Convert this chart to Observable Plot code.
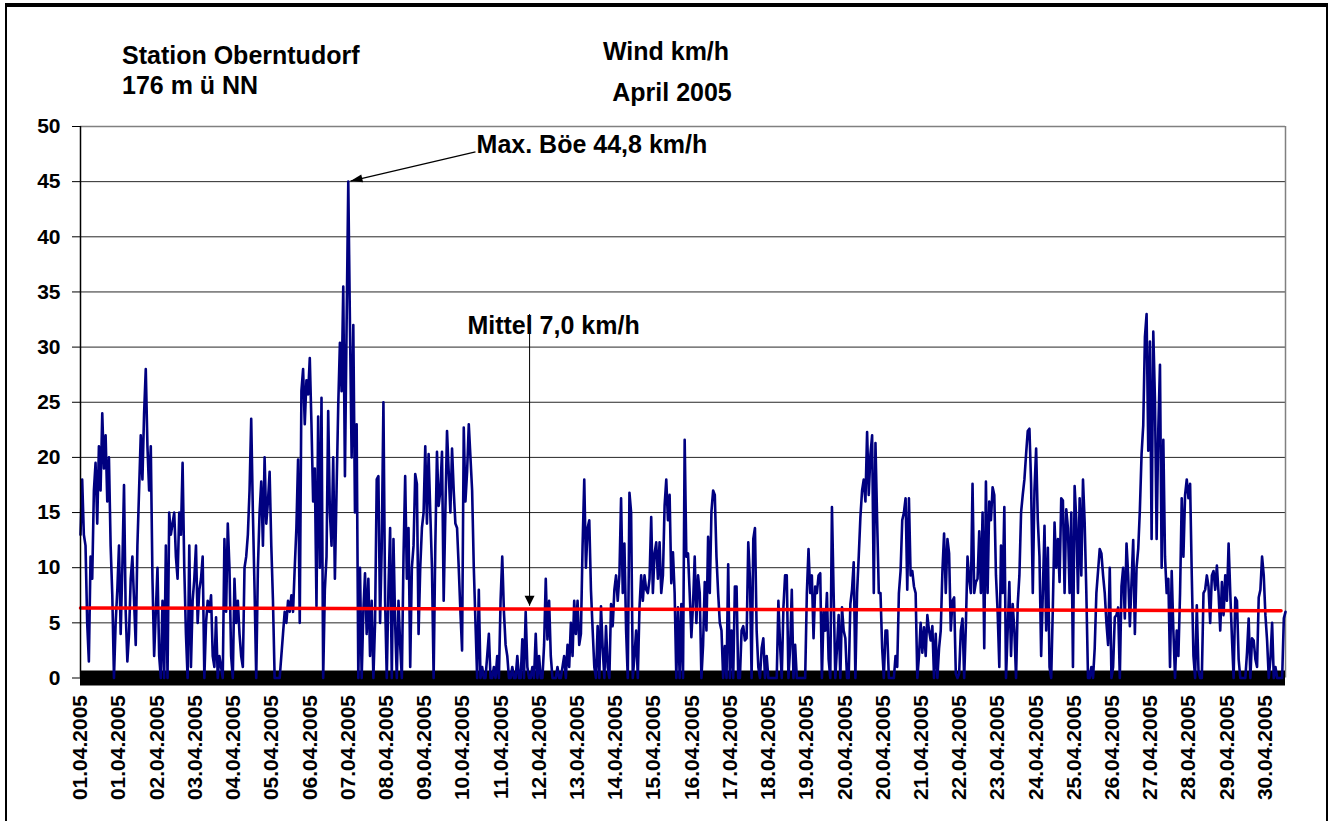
<!DOCTYPE html>
<html>
<head>
<meta charset="utf-8">
<script src="https://cdn.jsdelivr.net/npm/d3@7"></script>
<script src="https://cdn.jsdelivr.net/npm/@observablehq/plot@0.6"></script>
<style>
  body { margin: 0; background: #fff; }
  #wrap { position: relative; width: 1334px; height: 821px; overflow: hidden;
          font-family: "Liberation Sans", Arial, sans-serif; font-weight: bold; color: #000; }
  #frame { position: absolute; left: 5px; top: 3px; width: 1319px; height: 900px;
           border-top: 4px solid #000; border-left: 2px solid #000; border-right: 2px solid #000; }
  #chart { position: absolute; left: 0; top: 0; }
  .t { position: absolute; font-size: 25px; line-height: 25px; white-space: nowrap; }
  #chart svg [aria-label*="axis"] text { font-size: 21px; font-weight: bold; }
</style>
</head>
<body>
<div id="wrap">
  <div id="frame"></div>
  <div id="chart"></div>
  <div class="t" style="left:122px; top:43px;">Station Oberntudorf</div>
  <div class="t" style="left:122px; top:73px;">176 m ü NN</div>
  <div class="t" style="left:666px; top:39px; transform:translateX(-50%);">Wind km/h</div>
  <div class="t" style="left:672px; top:80px; transform:translateX(-50%);">April 2005</div>
</div>
<script>
// Hourly wind speed (km/h), April 2005
const wind01to05 = [
  13,18,13,12,5,1.5,11,9,17,19.5,14,21,17,24,19,22,16,20,12,7.5,0,5,8,12,
  4,10,17.5,6,1.5,4,9,11,7,3,12,17,22,18,24,28,21,17,21,9,2,6,10,2,
  0,7,0,12,0,15,13,14,15,11,9,15,13,19.5,10,4,0,12,1,7,9,12,5,8,
  9,11,0,5,7,6,7.5,2,1,5.5,0,2,1,0,12.6,6,14,10,2,0,9,5,7,4,
  2,1,10,11,13,17,23.5,15,8,0,10,15,17.8,12,20,14,16,18.7,12,7,0,0,0,0
];
const wind06to10 = [
  2,4,6,5,7,6,7.5,6,10,13.6,19.8,5,26,28,23,27,25.7,29,23,16,19,6.5,23.7,10,
  25.4,0,8,11,24.2,15,12,20,9,17,24.7,30.4,26,35.5,18.3,32,45,32,20,32,15,23,0,10,
  0,6,9.5,4,9,2,7,0,5,18,18.3,5,12,25,7,0,8,13.6,0,12.6,5,0,7,3,
  0,11,18.3,9,13.6,1,10,12,18.5,17.6,4,10,13.6,15,21,14,20.3,15,10,0,12,20.5,15.6,17,
  20.5,7,15,22.4,18.7,15,20.8,17,14,13.6,10,6,2.5,22.7,16,18.7,23,20,17,10,5,0,8,0
];
const wind11to15 = [
  1,0,0,2,4,0,0,1,0,2,0,7,11,6,3,2,0,0,1,0,0,2,0,0,
  3.5,0,6,1,0,0,1,0,4,0,2,0,0,3,9,3.5,7,2,0,0,0,1,0,0,
  1,2,0,3,1,5,2,7,4,7,3,4,12,18,10,13.6,14.3,8,4.4,1,0,4.7,0,6.5,
  2.7,0,4.7,1,0,6.7,4.7,8,9.3,7,9.3,16.3,7.7,12.2,4.3,0,16.8,15,0,2,4.3,0,6.4,9.3,
  7,9.3,8,7.7,9,14.6,7.7,11.3,12.3,9,12.3,7.7,9.3,15.6,18,14.3,16.6,8.6,11.4,7.7,0,6.4,0,6.7
];
const wind16to20 = [
  0,21.6,11,11.3,7.7,3.7,6.7,11,5,9.3,7.7,0,3,8.7,4.3,12.8,7.7,15.1,17,16.6,11,7.7,5,4.3,
  0,2.9,0,10.3,0,4.3,0,8.3,8.3,0,0,4.3,4.7,3.4,3.6,12.3,9,0,12.6,13.6,4.3,1,0,2.7,
  3.6,0,2,0,0,0,0,0,0,7,3,0,6.4,9.3,9.3,0,2.7,8,0,3,0,0,0,0,
  0,0,7.7,11.7,7.7,9.3,3.6,8.3,7.7,9.3,9.5,0,6,4.3,7.7,1.7,0,15.5,7.7,0,2.7,5.7,0,6.4,
  4.3,3.6,0,0,6.7,8,10.5,0,7.7,11,14.6,17,18,16,22.3,16.6,20.3,22,7.7,21.3,14.3,7.7,7.7,2.7
];
const wind21to25 = [
  0,4.3,4.3,0,0,0,0,2,1,7.7,9.7,14.3,15,16.3,8,16.3,9.3,9.7,8.3,7.7,0,2,5,2.3,
  4.6,2,5.7,4.3,3.4,4.7,0,4,0,2.7,4.3,9.7,13.1,7.7,12.6,11.3,4.3,7,7.3,0.4,0,0.4,4.3,5.4,
  0,4.7,11,9,7.7,17.6,7.7,8.7,9,13.3,7.7,15,2.7,17.8,7.7,16,14.3,17.3,16.6,9.3,6,1,12,7.7,
  15.5,0,4.3,8.7,2,6.7,4.3,0,6.7,9.3,15,16.6,18,20.3,22.4,22.6,17.6,7.7,17,20.8,14.3,11,2,7.7,
  13.8,4.3,11.8,1,0,6.5,14.1,10,12.6,8.7,16.3,16.1,7.7,15.3,13.6,7.7,15,1,17.4,14.3,7.7,16.3,9.3,18
];
const wind26to30 = [
  14.1,7.7,0,0,1,0,2.7,7.7,9.7,11.7,11.3,9.3,7.7,5,3,10,0,1,5.5,5.7,6.4,0,8.3,10,
  5.4,12.2,9.3,4.7,8.7,12.5,4,10,11.7,15.3,20.3,22.9,30.9,33,20.6,30.5,12.6,31.4,25.2,12.6,22.6,28.4,10,21.6,
  11,7.7,9,1,9.7,4.3,0,4.3,2,7.7,16.3,11,16.6,18,16.3,17.6,9.3,2,0,6.6,0.7,0,0,7.7,
  8,9.3,8.3,5,9.3,9.7,8,10.2,7.7,4.3,8.7,5.7,9.3,7,12.2,7.7,3.6,0,7.3,7,1.7,0,0,0,
  0,2.3,5.4,0,3.6,3.4,1.7,1,7.3,8,11,9.3,5.7,3.4,0,1.7,5,0,1,0,0,0,0,5.4,6
];

// Red trend line (start / end)
const trendSteps = [0, 4304];
const trendValues = [6.35, 6.1];

// Category axis: one label every 137 ten-minute records
const tickLabels = ["01.04.2005","01.04.2005","02.04.2005","03.04.2005","04.04.2005","05.04.2005",
  "06.04.2005","07.04.2005","08.04.2005","09.04.2005","10.04.2005","11.04.2005","12.04.2005",
  "13.04.2005","14.04.2005","15.04.2005","16.04.2005","17.04.2005","18.04.2005","19.04.2005",
  "20.04.2005","20.04.2005","21.04.2005","22.04.2005","23.04.2005","24.04.2005","25.04.2005",
  "26.04.2005","27.04.2005","28.04.2005","29.04.2005","30.04.2005"];
const labelEvery = 137;
const yTicks = [0,5,10,15,20,25,30,35,40,45,50];
const gridValues = [5,10,15,20,25,30,35,40,45];

// Annotations
const maxNote = {label: "Max. Böe 44,8 km/h", textStep: 1420, textV: 47.6, fromStep: 1416, fromV: 47.7, toStep: 968, toV: 45.05};
const meanNote = {label: "Mittel 7,0 km/h", textStep: 1387, textV: 31.2, atStep: 1610, fromV: 33.0, toV: 6.55};

const W = 1334, H = 821, mL = 80, mR = 49, mT = 126, mB = 143.5;
const stepsTotal = 4320;

const wind = [...wind01to05, ...wind06to10, ...wind11to15, ...wind16to20, ...wind21to25, ...wind26to30];
const series = wind.map((v, h) => ({step: h * 6, v}));
const trend = trendSteps.map((s, i) => ({step: s, v: trendValues[i]}));
const tickPos = tickLabels.map((_, i) => i * labelEvery);
const labelAt = new Map(tickPos.map((p, i) => [p, tickLabels[i]]));

// arrowhead symbols (tip at the anchor point)
function headSymbol(ux, uy, len, wid) {
  const n = Math.hypot(ux, uy); ux /= n; uy /= n;
  return {draw(ctx) {
    const bx = -ux * len, by = -uy * len, px = -uy * wid / 2, py = ux * wid / 2;
    ctx.moveTo(0, 0); ctx.lineTo(bx + px, by + py); ctx.lineTo(bx - px, by - py); ctx.closePath();
  }};
}
const pxPerStep = (W - mL - mR) / stepsTotal, pxPerUnit = (H - mT - mB) / 50;
const maxHead = headSymbol((maxNote.toStep - maxNote.fromStep) * pxPerStep, -(maxNote.toV - maxNote.fromV) * pxPerUnit, 12, 8);
const downHead = headSymbol(0, 1, 10, 10);

const chart = Plot.plot({
  width: W, height: H,
  marginLeft: mL, marginRight: mR, marginTop: mT, marginBottom: mB,
  style: {fontFamily: "Liberation Sans, Arial, sans-serif", fontSize: "21px", fontWeight: "bold", background: "transparent", overflow: "visible", color: "#000"},
  x: {domain: [0, stepsTotal], ticks: tickPos, tickFormat: d => labelAt.get(d) ?? "", tickRotate: -90, tickSize: 0, tickPadding: 17, label: null},
  y: {domain: [0, 50], ticks: yTicks, tickSize: 8, tickPadding: 12, label: null},
  marks: [
    Plot.ruleY(gridValues, {stroke: "#000", strokeWidth: 1, strokeOpacity: 0.85}),
    Plot.ruleY([50], {stroke: "#808080", strokeWidth: 1.5}),
    Plot.ruleX([stepsTotal], {stroke: "#808080", strokeWidth: 1.5}),
    Plot.ruleY([0], {stroke: "#000", strokeWidth: 15}),
    Plot.line(series, {x: "step", y: "v", stroke: "#000080", strokeWidth: 2.6}),
    Plot.line(trend, {x: "step", y: "v", stroke: "#ff0000", strokeWidth: 3.5}),
    Plot.ruleX([0], {stroke: "#000", strokeWidth: 1.5}),
    Plot.link([maxNote], {x1: "fromStep", y1: "fromV", x2: "toStep", y2: "toV", stroke: "#000", strokeWidth: 1.2}),
    Plot.dot([maxNote], {x: "toStep", y: "toV", symbol: maxHead, fill: "#000", r: 5}),
    Plot.link([meanNote], {x1: "atStep", y1: "fromV", x2: "atStep", y2: "toV", stroke: "#000", strokeWidth: 1}),
    Plot.dot([meanNote], {x: "atStep", y: "toV", symbol: downHead, fill: "#000", r: 5}),
    Plot.text([maxNote, meanNote], {x: "textStep", y: "textV", text: "label", textAnchor: "start", lineAnchor: "bottom", fontSize: 25, fontWeight: "bold", fill: "#000"})
  ]
});
document.getElementById("chart").appendChild(chart);
</script>
</body>
</html>
